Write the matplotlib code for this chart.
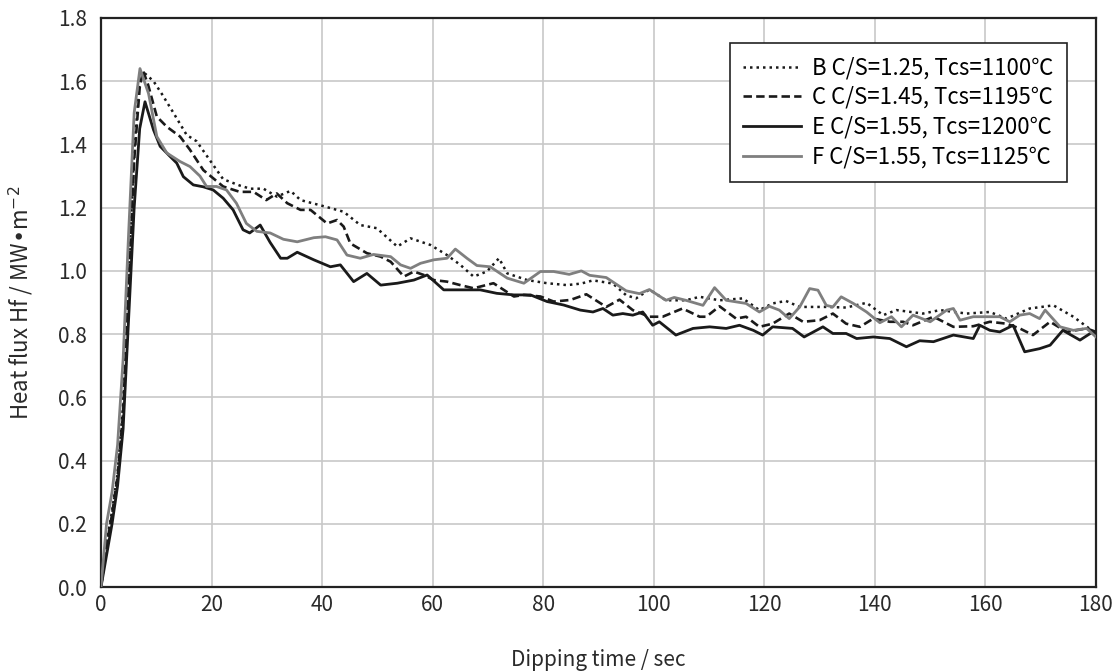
import matplotlib
matplotlib.use("Agg")
import matplotlib.pyplot as plt

plt.rcParams['font.family'] = ['Noto Sans CJK JP', 'DejaVu Sans']

# ---- data ----
B_t = [0, 1, 2, 3, 4, 5, 6, 7, 7.6, 9.5, 11, 13.1, 15.5, 17.3, 19.7, 22.1, 25.1, 27, 29.4, 31.8,
       34.3, 36.1, 40, 43.9, 46.9, 49.9, 53.6, 56, 59.6, 62.6, 65, 67.4, 69.8, 72, 73.5, 77.1,
       80.7, 84.3, 86.9, 89, 92.6, 95, 96.8, 99.2, 102.2, 105.8, 108.3, 111.9, 116.1, 119.1,
       121.5, 123.9, 126.4, 131.2, 134.8, 138.5, 141.5, 143.9, 148.7, 151.8, 156.6, 160.8,
       163.8, 168, 172.3, 175.9, 180]
B_y = [0, 0.14, 0.24, 0.36, 0.58, 0.98, 1.38, 1.6, 1.63, 1.6, 1.56, 1.5, 1.43, 1.41, 1.35, 1.29,
       1.27, 1.26, 1.26, 1.235, 1.253, 1.224, 1.206, 1.187, 1.145, 1.135, 1.077, 1.103, 1.082,
       1.05, 1.019, 0.982, 0.998, 1.04, 0.992, 0.971, 0.961, 0.955, 0.96, 0.97, 0.96, 0.923,
       0.913, 0.941, 0.907, 0.907, 0.918, 0.907, 0.913, 0.876, 0.897, 0.905, 0.886, 0.886,
       0.884, 0.899, 0.86, 0.876, 0.865, 0.876, 0.865, 0.87, 0.849, 0.881, 0.891, 0.855, 0.802]

C_t = [0, 1, 2, 3, 4, 5, 6, 7, 7.6, 8.5, 10.1, 11.9, 14.3, 16.1, 18.5, 20.3, 22.1, 25.1, 27.6,
       29.9, 31.8, 33.7, 36.1, 37.9, 40.9, 42.7, 43.9, 45.1, 48.1, 50.6, 52.4, 54.8, 56.6, 58.4,
       60.2, 62.6, 65, 67.4, 71, 74.7, 76.5, 79.5, 81.9, 84.9, 87.8, 91.4, 93.8, 96.2, 99.2,
       101.6, 105.2, 108.3, 109.5, 111.9, 114.9, 116.7, 119.1, 121.5, 124.5, 127, 130, 132.4,
       134.8, 137.3, 139.7, 142.7, 145.1, 146.9, 150.6, 154.2, 157.8, 160.8, 163.8, 166.2,
       168.6, 171.7, 174.7, 178.3, 180]
C_y = [0, 0.13, 0.23, 0.35, 0.55, 0.95, 1.35, 1.58, 1.633, 1.59, 1.488, 1.456, 1.425, 1.383,
       1.319, 1.293, 1.267, 1.25, 1.25, 1.224, 1.245, 1.214, 1.193, 1.193, 1.15, 1.161, 1.14,
       1.087, 1.056, 1.045, 1.029, 0.982, 0.998, 0.987, 0.971, 0.966, 0.955, 0.945, 0.961,
       0.919, 0.924, 0.919, 0.903, 0.908, 0.926, 0.886, 0.909, 0.876, 0.855, 0.855, 0.881,
       0.855, 0.855, 0.888, 0.849, 0.855, 0.823, 0.833, 0.865, 0.839, 0.844, 0.865, 0.833,
       0.823, 0.849, 0.839, 0.839, 0.828, 0.855, 0.823, 0.825, 0.839, 0.833, 0.818, 0.797,
       0.839, 0.807, 0.818, 0.807]

E_t = [0, 1, 2, 3, 4, 5, 6, 7, 7.96, 9.5, 10.7, 12.5, 13.7, 14.9, 16.7, 18.5, 20.3, 22.1, 23.9,
       25.7, 26.9, 28.8, 30.6, 32.5, 33.7, 35.5, 38.5, 41.5, 43.3, 45.7, 48.1, 50.6, 53.6, 56.6,
       59, 62, 65, 68.6, 71.6, 74.7, 77.7, 80.7, 83.7, 86.7, 89, 90.8, 92.6, 94.4, 96.2, 98,
       99.8, 101, 104, 107.1, 110.1, 113.1, 115.5, 118, 119.7, 121.5, 125.1, 127.2, 130.6,
       132.4, 134.8, 136.7, 139.7, 142.7, 145.7, 148.1, 150.6, 154.2, 157.8, 159, 160.8, 162.6,
       165, 167.1, 169.8, 171.7, 174, 177.1, 179.4, 180]
E_y = [0, 0.1, 0.2, 0.32, 0.5, 0.85, 1.2, 1.45, 1.535, 1.446, 1.394, 1.362, 1.341, 1.298, 1.272,
       1.266, 1.256, 1.23, 1.193, 1.13, 1.12, 1.145, 1.09, 1.04, 1.04, 1.059, 1.035, 1.013,
       1.019, 0.966, 0.992, 0.955, 0.961, 0.971, 0.987, 0.94, 0.94, 0.94, 0.929, 0.924, 0.924,
       0.903, 0.892, 0.876, 0.87, 0.881, 0.86, 0.865, 0.86, 0.87, 0.828, 0.839, 0.797, 0.818,
       0.823, 0.818, 0.828, 0.812, 0.797, 0.823, 0.818, 0.791, 0.823, 0.802, 0.802, 0.786,
       0.791, 0.786, 0.76, 0.779, 0.776, 0.797, 0.786, 0.828, 0.812, 0.807, 0.828, 0.744,
       0.754, 0.765, 0.812, 0.781, 0.807, 0.797]

F_t = [0, 1, 2, 3, 4, 5, 6, 7.05, 8.6, 10.1, 11.9, 14.3, 16.1, 17.9, 19.1, 20.9, 22.7, 24.5,
       26.3, 28.2, 30.6, 33, 35.5, 38.5, 40.6, 42.7, 44.5, 46.9, 49.3, 52.4, 54.2, 56, 57.8,
       60.2, 62.6, 64.1, 66.2, 68, 70.4, 73.5, 76.5, 79.5, 81.9, 84.7, 86.9, 88.4, 91.4, 95,
       97.4, 99.2, 102.2, 103.7, 105.8, 108.9, 111, 113.1, 116.7, 119.1, 120.9, 122.7, 124.5,
       126.4, 128.2, 129.7, 131.2, 132.4, 133.9, 136.1, 138.5, 140.9, 143, 144.8, 146.9, 150,
       153, 154.2, 155.4, 157.8, 160.2, 162.6, 164.4, 166.2, 168, 169.8, 170.8, 173.5, 175.9,
       178.3, 180]
F_y = [0, 0.2, 0.3, 0.45, 0.72, 1.12, 1.5, 1.64, 1.561, 1.425, 1.373, 1.346, 1.33, 1.3, 1.267,
       1.267, 1.256, 1.214, 1.15, 1.125, 1.12, 1.1, 1.092, 1.105, 1.108, 1.098, 1.05, 1.04,
       1.052, 1.045, 1.019, 1.008, 1.024, 1.035, 1.04, 1.069, 1.04, 1.017, 1.013, 0.977,
       0.961, 0.998, 0.998, 0.989, 1.0, 0.986, 0.979, 0.937, 0.928, 0.941, 0.907, 0.916,
       0.907, 0.891, 0.947, 0.907, 0.897, 0.87, 0.888, 0.876, 0.849, 0.886, 0.944, 0.939,
       0.891, 0.886, 0.918, 0.897, 0.87, 0.836, 0.855, 0.823, 0.86, 0.839, 0.876, 0.881,
       0.844, 0.855, 0.855, 0.855, 0.839, 0.86, 0.865, 0.849, 0.876, 0.823, 0.812, 0.818,
       0.791]

labels = ["B C/S=1.25, Tcs=1100\u2103", "C C/S=1.45, Tcs=1195\u2103",
          "E C/S=1.55, Tcs=1200\u2103", "F C/S=1.55, Tcs=1125\u2103"]
x_ticks = [0, 20, 40, 60, 80, 100, 120, 140, 160, 180]
y_ticks = [0.0, 0.2, 0.4, 0.6, 0.8, 1.0, 1.2, 1.4, 1.6, 1.8]

for a, b in [(B_t, B_y), (C_t, C_y), (E_t, E_y), (F_t, F_y)]:
    assert len(a) == len(b), (len(a), len(b))

# ---- figure ----
fig = plt.figure(figsize=(11.17, 6.71), dpi=100)
ax = fig.add_axes([101 / 1117, 1 - 587 / 671, 995 / 1117, 569 / 671])

ax.plot(B_t, B_y, color='#1a1a1a', lw=1.8, linestyle=(0, (1, 1.6)), label=labels[0], zorder=3)
ax.plot(C_t, C_y, color='#1a1a1a', lw=1.9, linestyle=(0, (3.2, 1.6)), label=labels[1], zorder=3)
ax.plot(E_t, E_y, color='#1a1a1a', lw=2.0, linestyle='-', label=labels[2], zorder=3)
ax.plot(F_t, F_y, color='#7f7f7f', lw=2.0, linestyle='-', label=labels[3], zorder=3)

ax.set_xlim(0, 180)
ax.set_ylim(0, 1.8)
ax.set_xticks(x_ticks)
ax.set_yticks(y_ticks)
ax.set_yticklabels([f"{v:.1f}" for v in y_ticks])
ax.grid(True, color='#c8c8c8', lw=1.2)
ax.set_axisbelow(True)
ax.tick_params(length=0, labelsize=15, colors='#2a2a2a')
ax.tick_params(axis='y', pad=10)
ax.tick_params(axis='x', pad=5)
for s in ax.spines.values():
    s.set_color('#222222')
    s.set_linewidth(1.6)

ax.set_xlabel("Dipping time / sec", fontsize=15, color='#2a2a2a', labelpad=24)
ax.set_ylabel("Heat flux Hf / MW\u2022m$^{-2}$", fontsize=16, color='#2a2a2a', labelpad=16)

leg = ax.legend(loc='upper right', bbox_to_anchor=((1067 - 101) / 995, (587 - 43) / 569),
                fontsize=16, frameon=True, fancybox=False, handlelength=2.6,
                borderpad=0.6, labelspacing=0.3, handletextpad=0.5, borderaxespad=0)
leg.get_frame().set_edgecolor('#222222')
leg.get_frame().set_linewidth(1.2)
leg.get_frame().set_alpha(1)

fig.savefig("out.png", dpi=100)
